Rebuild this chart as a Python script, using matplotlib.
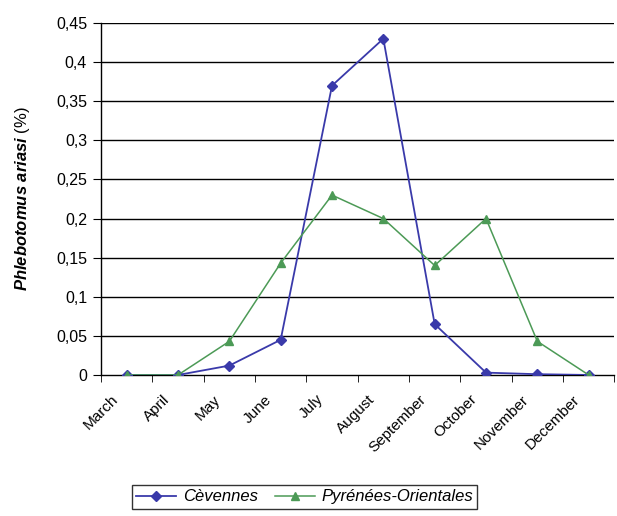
import matplotlib
matplotlib.use("Agg")
import matplotlib.pyplot as plt
import matplotlib.transforms as mtransforms
import numpy as np

months = ["March", "April", "May", "June", "July", "August", "September",
          "October", "November", "December"]
cevennes = [0.0, 0.0, 0.012, 0.045, 0.37, 0.43, 0.065, 0.003, 0.001, 0.0]
pyrenees = [0.0, 0.0, 0.043, 0.143, 0.23, 0.2, 0.14, 0.2, 0.043, 0.0]
yticks = [0, 0.05, 0.1, 0.15, 0.2, 0.25, 0.3, 0.35, 0.4, 0.45]
ytick_labels = ["0", "0,05", "0,1", "0,15", "0,2", "0,25", "0,3", "0,35", "0,4", "0,45"]

plt.rcParams['font.family'] = ['Liberation Sans', 'DejaVu Sans']
plt.rcParams['mathtext.fontset'] = 'custom'
plt.rcParams['mathtext.rm'] = 'Liberation Sans'
plt.rcParams['mathtext.it'] = 'Liberation Sans:italic'
plt.rcParams['mathtext.bf'] = 'Liberation Sans:bold'
plt.rcParams['mathtext.bfit'] = 'Liberation Sans:italic:bold'

fig = plt.figure(figsize=(6.17, 5.16), dpi=100)
ax = fig.add_axes([0.1637, 0.2733, 0.832, 0.682])

x = np.arange(len(months))
blue = '#3a3aaa'
green = '#4c9a56'
ax.plot(x, cevennes, color=blue, marker='D', markersize=5, linewidth=1.3,
        label='Cèvennes', zorder=3)
ax.plot(x, pyrenees, color=green, marker='^', markersize=6, linewidth=1.1,
        label='Pyrénées-Orientales', zorder=4)

ax.set_xlim(-0.5, len(months) - 0.5)
ax.set_ylim(0, 0.45)
ax.set_yticks(yticks)
ax.set_yticklabels(ytick_labels, fontsize=11.5)
for yv in yticks[1:]:
    ax.axhline(yv, color='black', linewidth=1.0, zorder=1)

ax.set_xticks(x)
ax.set_xticklabels(months, rotation=45, ha='right', va='center',
                   rotation_mode='anchor', fontsize=11)
ax.tick_params(axis='x', which='major', length=0, pad=16)
offset = mtransforms.ScaledTranslation(-0.11, 0, fig.dpi_scale_trans)
for lab in ax.get_xticklabels():
    lab.set_transform(lab.get_transform() + offset)
ax.set_xticks(np.arange(-0.5, len(months) + 0.5, 1), minor=True)
ax.tick_params(axis='x', which='minor', length=5, direction='out', color='black')
ax.tick_params(axis='y', length=6, direction='out', color='black', pad=4)

for s in ['top', 'right']:
    ax.spines[s].set_visible(False)
ax.spines['left'].set_color('black')
ax.spines['bottom'].set_color('black')
ax.spines['left'].set_linewidth(1.0)
ax.spines['bottom'].set_linewidth(1.0)

ax.set_ylabel(r"$\mathbfit{Phlebotomus\ ariasi}$ (%)", fontsize=12)
ax.yaxis.set_label_coords(-0.135, 0.5)

leg = fig.legend(loc='center', bbox_to_anchor=(0.494, 0.037), ncol=2,
                 frameon=True, fancybox=False, edgecolor='black',
                 prop={'style': 'italic', 'size': 12}, handlelength=2.4,
                 borderpad=0.25, columnspacing=1.0, handletextpad=0.4)
leg.get_frame().set_linewidth(1.0)

fig.savefig("out.png", dpi=100)
